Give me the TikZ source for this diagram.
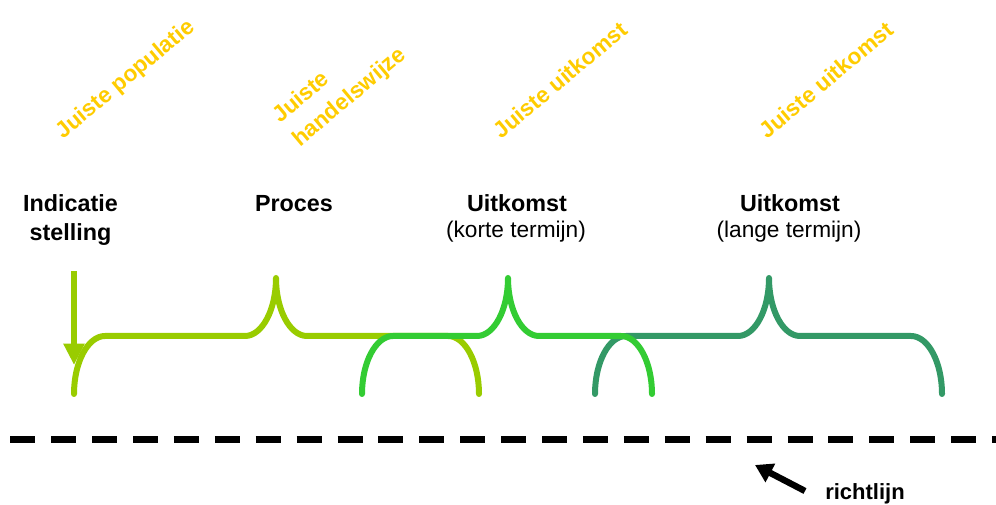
\documentclass[tikz,border=0pt]{standalone}
\usepackage{fontspec}
\setmainfont{Liberation Sans}
\usetikzlibrary{arrows.meta}
\definecolor{ygreen}{HTML}{99CC00}
\definecolor{bgreen}{HTML}{33CC33}
\definecolor{tgreen}{HTML}{339966}
\definecolor{gold}{HTML}{FFCC00}
\tikzset{
  bracestyle/.style={line width=4.5pt, line cap=round, line join=round},
  headlbl/.style={font=\fontsize{17.5}{21}\selectfont\bfseries, inner sep=0pt, anchor=base},
  sublbl/.style={font=\fontsize{17}{21}\selectfont, inner sep=0pt, anchor=base},
  ylbl/.style={text=gold, font=\fontsize{17}{23}\selectfont\bfseries, rotate=40, inner sep=0pt},
  arrowline/.style={line width=4.8pt}
}
\begin{document}
\begin{tikzpicture}[x=0.75pt,y=-0.75pt]
\useasboundingbox (0,0) rectangle (996,505);

% yellow labels
\node[ylbl] (yp) at (126,80) {Juiste populatie};
\node[ylbl, align=left] (yh) at (340,86) {Juiste\\handelswijze};
\node[ylbl] (yu1) at (560,80) {Juiste uitkomst};
\node[ylbl] (yu2) at (826,80) {Juiste uitkomst};

% headings
\node[headlbl] (ind1) at (70.5,212) {Indicatie};
\node[headlbl] (ind2) at (70.5,241) {stelling};
\node[headlbl] (proc) at (294,212) {Proces};
\node[headlbl] (uit1) at (517,212) {Uitkomst};
\node[sublbl] (kort) at (516,238) {(korte termijn)};
\node[headlbl] (uit2) at (790,212) {Uitkomst};
\node[sublbl] (lang) at (789,238) {(lange termijn)};

% braces
\draw[bracestyle, ygreen] (74,394) .. controls (74,362) and (88,336) .. (105,336) -- (245,336)
  .. controls (262,336) and (276,310) .. (276,278) .. controls (276,310) and (290,336) .. (307,336)
  -- (448,336) .. controls (465,336) and (479,362) .. (479,394);
\draw[bracestyle, tgreen] (595,394) .. controls (595,362) and (609,336) .. (626,336) -- (738,336)
  .. controls (755,336) and (769,310) .. (769,278) .. controls (769,310) and (783,336) .. (800,336)
  -- (911,336) .. controls (928,336) and (942,362) .. (942,394);
\draw[bracestyle, bgreen] (362,394) .. controls (362,362) and (376,336) .. (393,336) -- (477,336)
  .. controls (494,336) and (508,310) .. (508,278) .. controls (508,310) and (522,336) .. (539,336)
  -- (621,336) .. controls (638,336) and (652,362) .. (652,394);

% indication arrow
\coordinate (a1s) at (74,271);
\coordinate (a1e) at (74,365);
\draw[arrowline, ygreen, -{Triangle[width=15pt,length=16pt]}] (a1s) -- (a1e);

% guideline
\coordinate (gl1) at (10.3,440);
\coordinate (gl2) at (1000,440);
\draw[line width=5.25pt, dash pattern=on 18.75pt off 11.93pt] (gl1) -- (gl2);

% richtlijn
\node[headlbl, font=\fontsize{16.5}{20}\selectfont\bfseries] (richt) at (865,500) {richtlijn};
\coordinate (a2s) at (805,491);
\coordinate (a2e) at (755,465);
\draw[arrowline, black, -{Triangle[width=15pt,length=13pt]}] (a2s) -- (a2e);
\end{tikzpicture}
\end{document}
